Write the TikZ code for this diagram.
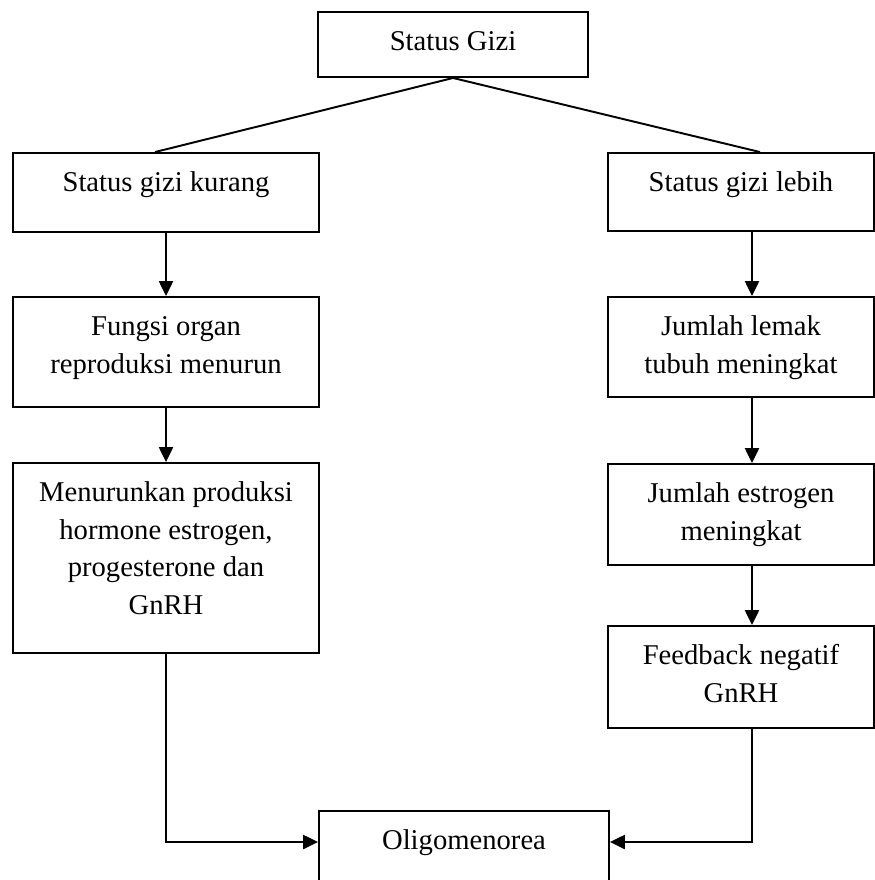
\documentclass[tikz,border=0pt]{standalone}
\usepackage{fontspec}
\setmainfont{Liberation Serif}
\usetikzlibrary{arrows.meta,calc}
\tikzset{
  flowbox/.style={
    draw=black,
    line width=1.1pt,
    inner sep=0pt
  },
  boxtext/.style={
    anchor=north,
    inner sep=0pt,
    yshift=-7.1pt,
    align=center,
    font=\fontsize{16.3}{21.5}\selectfont
  },
  link/.style={
    line width=1.1pt
  },
  arrow/.style={
    -{Triangle[length=8.5pt,width=8pt]},
    line width=1.1pt
  }
}
\begin{document}
\begin{tikzpicture}[x=0.02cm,y=-0.02cm]
\useasboundingbox (0,0) rectangle (875,880);
\node[flowbox, minimum width=5.4cm, minimum height=1.3cm,
  label={[boxtext]north:{\strut Status Gizi}}] (gizi) at (453,44.5) {};
% left column
\node[flowbox, minimum width=6.12cm, minimum height=1.58cm,
  label={[boxtext]north:{\strut Status gizi kurang}}] (kurang) at (166,192.5) {};
\node[flowbox, minimum width=6.12cm, minimum height=2.2cm,
  label={[boxtext]north:{\strut Fungsi organ\\reproduksi menurun}}] (fungsi) at (166,352) {};
\node[flowbox, minimum width=6.12cm, minimum height=3.8cm,
  label={[boxtext]north:{\strut Menurunkan produksi\\hormone estrogen,\\progesterone dan\\GnRH}}] (menurun) at (166,558) {};
% right column
\node[flowbox, minimum width=5.32cm, minimum height=1.56cm,
  label={[boxtext]north:{\strut Status gizi lebih}}] (lebih) at (741,192) {};
\node[flowbox, minimum width=5.32cm, minimum height=2.0cm,
  label={[boxtext]north:{\strut Jumlah lemak\\tubuh meningkat}}] (lemak) at (741,347) {};
\node[flowbox, minimum width=5.32cm, minimum height=2.02cm,
  label={[boxtext]north:{\strut Jumlah estrogen\\meningkat}}] (estrogen) at (741,514.5) {};
\node[flowbox, minimum width=5.32cm, minimum height=2.04cm,
  label={[boxtext]north:{\strut Feedback negatif\\GnRH}}] (feedback) at (741,677) {};
% result
\node[flowbox, minimum width=5.8cm, minimum height=1.6cm,
  label={[boxtext]north:{\strut Oligomenorea}}] (oligo) at (464,851) {};

\draw[link] (gizi.south) -- ($(kurang.north)+(-11,0)$);
\draw[link] (gizi.south) -- ($(lebih.north)+(19,0)$);
\draw[arrow] (kurang.south) -- (fungsi.north);
\draw[arrow] (fungsi.south) -- (menurun.north);
\draw[arrow] ($(lebih.south)+(11,0)$) -- ($(lemak.north)+(11,0)$);
\draw[arrow] ($(lemak.south)+(11,0)$) -- ($(estrogen.north)+(11,0)$);
\draw[arrow] ($(estrogen.south)+(11,0)$) -- ($(feedback.north)+(11,0)$);
\draw[arrow] (menurun.south) |- ($(oligo.west)+(0,-9)$);
\draw[arrow] ($(feedback.south)+(11,0)$) |- ($(oligo.east)+(0,-9)$);
\end{tikzpicture}
\end{document}
